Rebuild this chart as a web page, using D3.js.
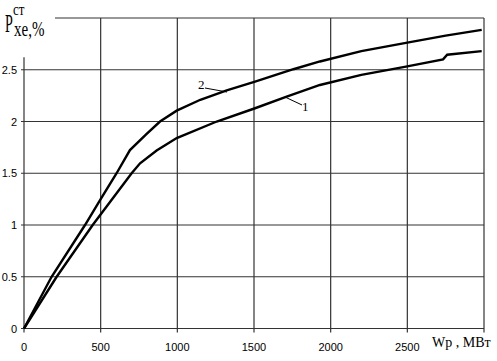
<!DOCTYPE html>
<html>
<head>
<meta charset="utf-8">
<script src="https://cdn.jsdelivr.net/npm/d3@7"></script>
<style>
  body { margin: 0; background: #fff; }
  svg { display: block; }
</style>
</head>
<body>
<svg id="chart" width="497" height="361"></svg>
<script>
// значения кривых
const w2 = [0, 180, 398, 496, 604, 691, 800, 887, 996, 1150, 1322, 1507, 1757, 1930, 2200, 2491, 2750, 2985];
const p2 = [0, 0.5, 1.0, 1.24, 1.5, 1.724, 1.88, 2.0, 2.105, 2.21, 2.30, 2.385, 2.505, 2.58, 2.68, 2.76, 2.83, 2.885];

const w1 = [0, 213, 448, 702, 757, 865, 996, 1257, 1507, 1713, 1930, 2200, 2491, 2733, 2760, 2985];
const p1 = [0, 0.5, 1.0, 1.5, 1.596, 1.72, 1.84, 2.0, 2.128, 2.24, 2.353, 2.45, 2.53, 2.60, 2.645, 2.68];

const xTicks = [0, 500, 1000, 1500, 2000, 2500];
const yTicks = [0, 0.5, 1, 1.5, 2, 2.5];

const svg = d3.select('#chart');

let x = d3.scaleLinear().domain([0, 3000]).range([24, 484]);
let y = d3.scaleLinear().domain([0, 3]).range([328.5, 18]);

// сетка
svg.selectAll('line.hgrid')
    .data(yTicks)
    .enter()
    .append('line')
    .attr('x1', 21).attr('x2', x(3000))
    .attr('y1', d => y(d)).attr('y2', d => y(d))
    .style('stroke', '#333').style('stroke-width', 1.2);

svg.selectAll('line.vgrid')
    .data(xTicks.concat([3000]))
    .enter()
    .append('line')
    .attr('x1', d => x(d)).attr('x2', d => x(d))
    .attr('y1', d => d === 0 ? y(2.62) : y(3)).attr('y2', y(0) + 4)
    .style('stroke', '#333').style('stroke-width', 1.2);

// верхняя рамка
svg.append('line')
    .attr('x1', 55).attr('x2', x(3000))
    .attr('y1', y(3)).attr('y2', y(3))
    .style('stroke', '#333').style('stroke-width', 1.2);

// подписи делений
svg.selectAll('text.yt')
    .data(yTicks)
    .enter()
    .append('text')
    .attr('x', 17).attr('y', d => y(d) + 4)
    .attr('text-anchor', 'end')
    .style('font-family', 'Liberation Sans, Arial')
    .style('font-size', '11px')
    .text(d => d);

svg.selectAll('text.xt')
    .data(xTicks)
    .enter()
    .append('text')
    .attr('x', d => x(d)).attr('y', 350.5)
    .attr('text-anchor', 'middle')
    .style('font-family', 'Liberation Sans, Arial')
    .style('font-size', '11px')
    .text(d => d);

// кривые
let line = d3.line()
    .x(d => x(d[0]))
    .y(d => y(d[1]));

[[w1, p1], [w2, p2]].forEach(function(s) {
    svg.append('path')
        .datum(d3.zip(s[0], s[1]))
        .attr('d', line)
        .style('fill', 'none')
        .style('stroke', '#000')
        .style('stroke-width', 2.4);
});

// выноски
svg.append('line')
    .attr('x1', 205).attr('y1', 88).attr('x2', 227).attr('y2', 92)
    .style('stroke', '#000').style('stroke-width', 1);
svg.append('text')
    .attr('x', 198).attr('y', 89)
    .style('font-family', 'Liberation Serif, Times New Roman')
    .style('font-size', '13px')
    .text('2');

svg.append('line')
    .attr('x1', 285).attr('y1', 97).attr('x2', 302).attr('y2', 105)
    .style('stroke', '#000').style('stroke-width', 1);
svg.append('text')
    .attr('x', 302).attr('y', 111)
    .style('font-family', 'Liberation Serif, Times New Roman')
    .style('font-size', '13px')
    .text('1');

// подписи осей
svg.append('text')
    .attr('x', 432).attr('y', 347)
    .style('font-family', 'Liberation Serif, Times New Roman')
    .style('font-size', '14px')
    .text('Wp , МВт');

svg.append('text')
    .attr('transform', 'translate(5,32) scale(0.7,1.3)')
    .style('font-family', 'Liberation Serif, Times New Roman')
    .style('font-size', '20px')
    .text('Р');
svg.append('text')
    .attr('transform', 'translate(13,15) scale(1,1.3)')
    .style('font-family', 'Liberation Serif, Times New Roman')
    .style('font-size', '13px')
    .text('ст');
svg.append('text')
    .attr('transform', 'translate(14,36) scale(1,1.35)')
    .style('font-family', 'Liberation Serif, Times New Roman')
    .style('font-size', '15px')
    .text('xe,%');
</script>
</body>
</html>
